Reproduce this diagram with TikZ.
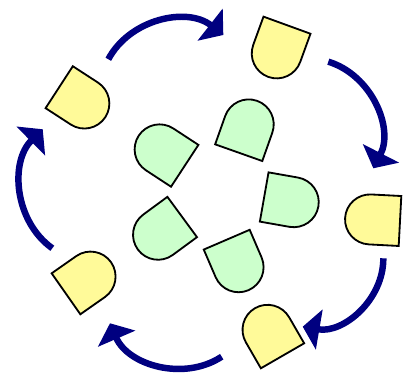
\documentclass[tikz,border=0pt]{standalone}
\usetikzlibrary{arrows.meta}
\definecolor{navy}{RGB}{0,0,128}
\begin{document}
\begin{tikzpicture}[
  dshape/.pic={
    \path[pic actions] (0,-0.625) -- (0.75,-0.625)
      arc[start angle=-90, end angle=90, radius=0.625] -- (0,0.625) -- cycle;
  },
  outer/.style={draw=black, line width=1.3pt, fill=yellow!40},
  inner/.style={draw=black, line width=1.3pt, fill=green!20},
  arrow/.style={-{Triangle[length=0.42cm, width=1cm]}, line width=4.6pt, draw=navy}
]
\useasboundingbox (0,0) rectangle (10.075,9.325);

% inner ring
\foreach \x/\y/\r [count=\i] in {5.968/5.508/70.5, 4.618/5.18/146.8,
    4.555/3.9/216.3, 5.668/3.333/293.3, 6.605/4.4/350}
  \pic[inner, rotate=\r] (in\i) at (\x,\y) {dshape};

% outer ring
\foreach \x/\y/\r [count=\i] in {1.48/7.145/327, 7.175/8.695/250,
    10.0/3.8/177, 7.063/0.43/120, 1.65/1.98/35}
  \pic[outer, rotate=\r] (out\i) at (\x,\y) {dshape};

% cycle arrows
\foreach \i/\sx/\sy/\ex/\ey in {1/2.708/7.843/5.583/8.45, 2/8.208/7.783/9.333/5.118,
    3/9.583/2.868/7.568/1.158, 4/5.543/0.408/2.75/1.243, 5/1.308/3.118/1.068/6.093} {
  \coordinate (s\i) at (\sx,\sy);
  \coordinate (e\i) at (\ex,\ey);
  \draw[arrow] (s\i) to[bend left=50] (e\i);
}
\end{tikzpicture}
\end{document}
